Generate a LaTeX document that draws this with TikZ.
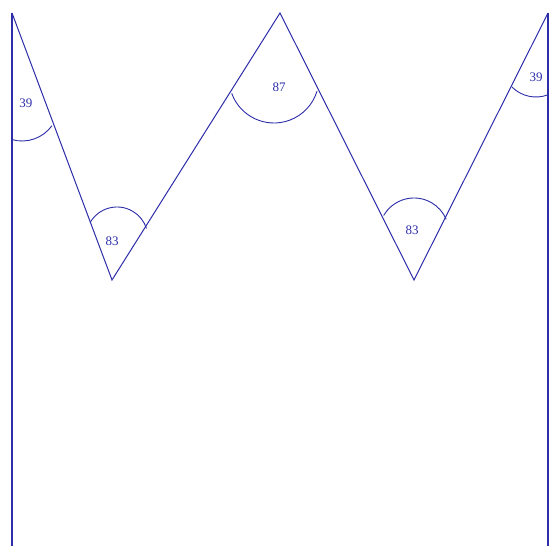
\documentclass[tikz,border=0pt]{standalone}
\usepackage{fontspec}
\setmainfont{Liberation Serif}
\definecolor{linec}{RGB}{45,45,170}
\begin{document}
\begin{tikzpicture}[x=1pt,y=1pt,
  edge/.style={draw=linec,line width=1pt},
  side/.style={draw=linec,line width=1.4pt},
  angarc/.style={draw=linec,line width=0.9pt},
  lbl/.style={text=linec,font=\fontsize{13}{13}\selectfont,inner sep=0pt}]
\useasboundingbox[fill=white] (0,0) rectangle (550,546);
% vertices
\coordinate (L) at (12,533);
\coordinate (LB) at (12,0);
\coordinate (B1) at (112,266);
\coordinate (T) at (280,533);
\coordinate (B2) at (414,266);
\coordinate (R) at (548,533);
\coordinate (RB) at (548,0);
% sides
\draw[side] (L) -- (LB);
\draw[side] (R) -- (RB);
\draw[edge] (L) -- (B1) -- (T) -- (B2) -- (R);
% angle arcs
\draw[angarc] ([shift={(254:37)}]22,442) arc[start angle=254, end angle=324, radius=37];
\draw[angarc] ([shift={(150:31)}]117,308) arc[start angle=150, end angle=18, radius=31];
\draw[angarc] ([shift={(200:45)}]274,468) arc[start angle=200, end angle=343, radius=45];
\draw[angarc] ([shift={(150:35)}]414,313) arc[start angle=150, end angle=23, radius=35];
\draw[angarc] ([shift={(225:34)}]536,483) arc[start angle=225, end angle=291, radius=34];
% labels
\node[lbl] (a1) at (26,443) {39};
\node[lbl] (a2) at (112,305) {83};
\node[lbl] (a3) at (279,459) {87};
\node[lbl] (a4) at (412,316) {83};
\node[lbl] (a5) at (536,469) {39};
\end{tikzpicture}
\end{document}
